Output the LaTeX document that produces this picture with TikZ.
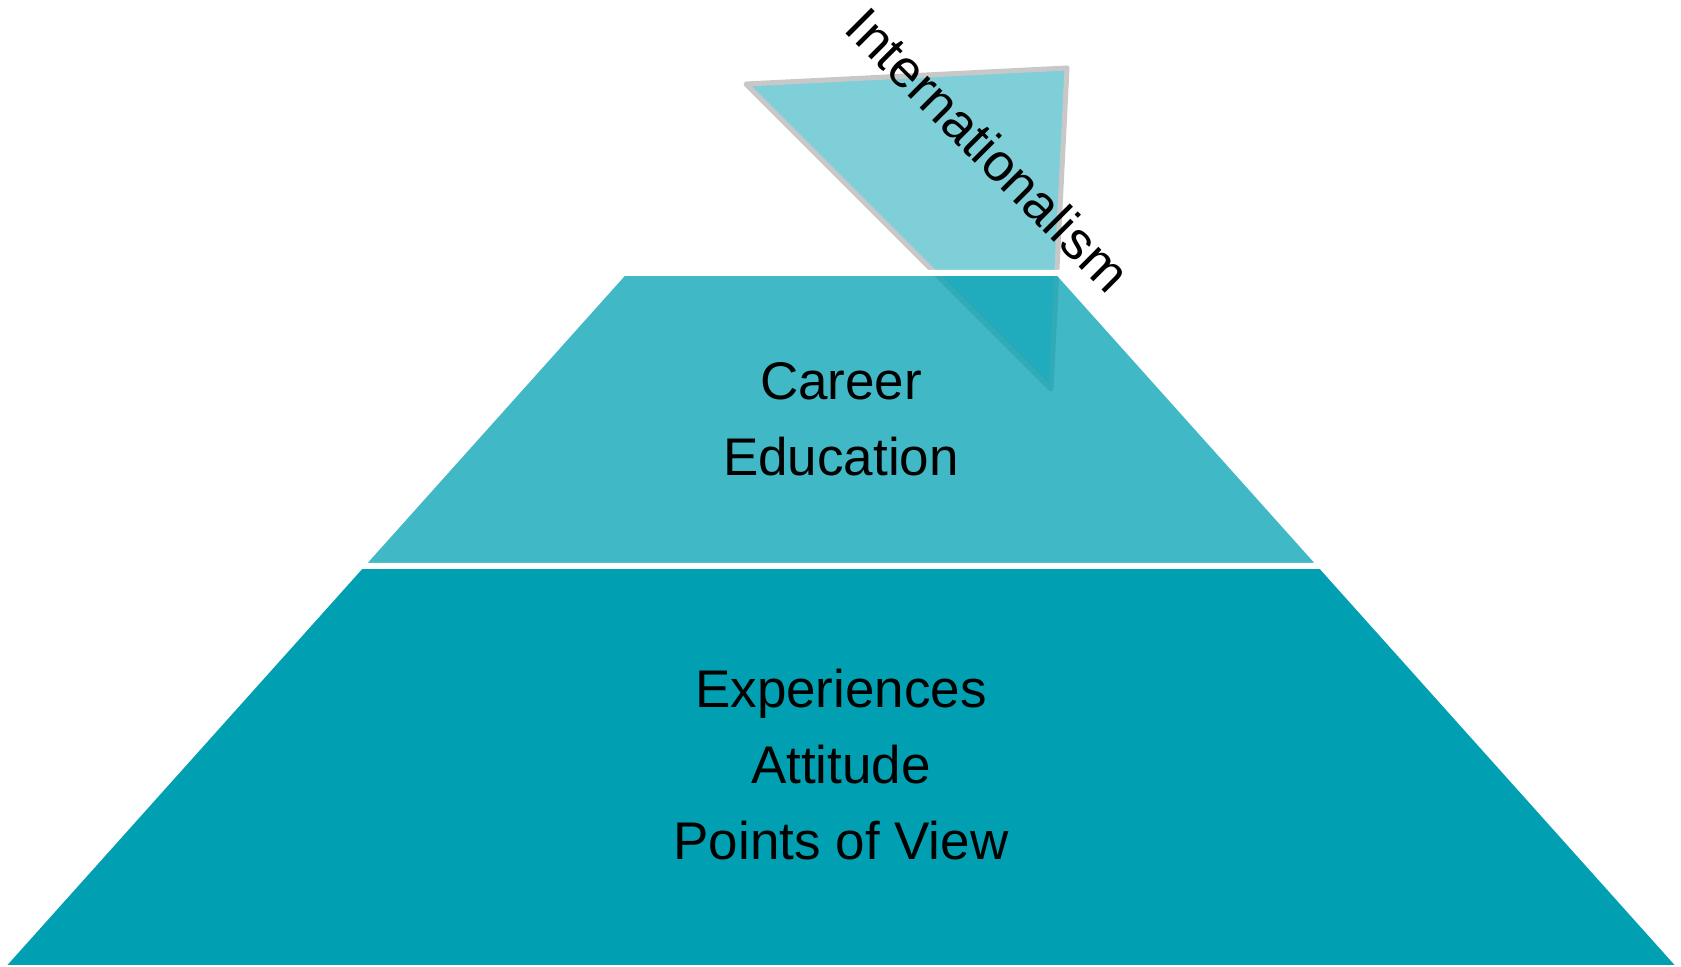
\documentclass[tikz,border=0pt]{standalone}
\usepackage{fontspec}
\setmainfont{Liberation Sans}

\definecolor{pyrteal}{RGB}{0,160,178}
\definecolor{tipgray}{RGB}{200,200,200}

\begin{document}
\begin{tikzpicture}[x=0.5pt,y=-0.5pt,
    layer/.style={draw=white,line width=3pt,fill=pyrteal},
    pyrtext/.style={align=center,font={\fontsize{26.5}{38}\selectfont}}]
    \pgfmathsetmacro{\xc}{841}
    \pgfmathsetmacro{\yt}{30}
    \pgfmathsetmacro{\ya}{273}
    \pgfmathsetmacro{\yb}{566}
    \pgfmathsetmacro{\yc}{968}
    \pgfmathsetmacro{\k}{0.896}
    \pgfmathsetmacro{\wa}{\k*(\ya-\yt)}
    \pgfmathsetmacro{\wb}{\k*(\yb-\yt)}
    \pgfmathsetmacro{\wc}{\k*(\yc-\yt)}
    \useasboundingbox (0,0) rectangle (1681,967);

    % Draw the tip
    \draw [line width=2.5pt,tipgray,line join=round,fill=pyrteal,fill opacity=0.5]
        (746,84) -- (1067,68) -- (1051,389) -- cycle;

    % Draw the bottom layer
    \draw [layer] (\xc-\wb,\yb) -- (\xc+\wb,\yb) -- (\xc+\wc,\yc) -- (\xc-\wc,\yc) -- cycle;

    % Draw the middle layer
    \draw [layer,fill opacity=0.75] (\xc-\wa,\ya) -- (\xc+\wa,\ya) -- (\xc+\wb,\yb) -- (\xc-\wb,\yb) -- cycle;

    % Labels
    \node [pyrtext] (career) at (\xc,419) {Career\\Education};
    \node [pyrtext] (base) at (\xc,765) {Experiences\\Attitude\\Points of View};
    \node [pyrtext,rotate=-45,anchor=base] (tip) at (975,163) {Internationalism};
\end{tikzpicture}
\end{document}
